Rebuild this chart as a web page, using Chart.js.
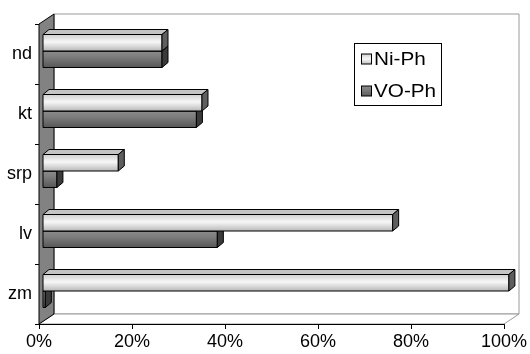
<!doctype html>
<html lang="en">
<head>
  <meta charset="utf-8">
  <title>Ni-Ph / VO-Ph</title>
  <script src="https://cdn.jsdelivr.net/npm/chart.js/dist/chart.umd.min.js"></script>
  <style>
    * { margin: 0; padding: 0; }
    body { background: #fff; width: 530px; height: 354px; overflow: hidden; }
  </style>
</head>
<body>
<canvas id="myChart" width="530" height="354"></canvas>

<script>
// data
const categories = ['nd', 'kt', 'srp', 'lv', 'zm'];
const niPh = [25.7, 34.3, 16.3, 75.3, 100.3];
const voPh = [25.7, 33.1, 3.1, 37.6, 0.6];
const xTicks = [0, 20, 40, 60, 80, 100];

// colours for the 3d faces (front gradient stops, top, side)
const faces = [
  { front: [[0, '#cfcfcf'], [0.45, '#f7f7f7'], [1, '#b8b8b8']], top: '#c4c4c4', side: '#5e5e5e' },
  { front: [[0, '#8c8c8c'], [0.4, '#7a7a7a'], [1, '#575757']], top: '#6e6e6e', side: '#3a3a3a' }
];

const FONT = 'Arial, "Liberation Sans", sans-serif';

function poly(ctx, pts, fill, stroke) {
  ctx.beginPath();
  ctx.moveTo(pts[0][0], pts[0][1]);
  for (let i = 1; i < pts.length; i++) ctx.lineTo(pts[i][0], pts[i][1]);
  ctx.closePath();
  if (fill) { ctx.fillStyle = fill; ctx.fill(); }
  if (stroke) { ctx.strokeStyle = stroke; ctx.lineWidth = 1; ctx.stroke(); }
}

// walls + 3d bars
const bar3d = {
  id: 'bar3d',
  beforeDatasetsDraw(chart) {
    const ctx = chart.ctx, a = chart.chartArea;
    const dx = 15, dy = -10;
    ctx.save();
    // back wall
    poly(ctx, [[a.left + dx, a.top + dy], [a.right + dx, a.top + dy], [a.right + dx, a.bottom + dy], [a.left + dx, a.bottom + dy]], '#fff', '#9a9a9a');
    // floor
    poly(ctx, [[a.left, a.bottom], [a.right, a.bottom], [a.right + dx, a.bottom + dy], [a.left + dx, a.bottom + dy]], '#fff', '#9a9a9a');
    // left wall
    poly(ctx, [[a.left, a.top], [a.left + dx, a.top + dy], [a.left + dx, a.bottom + dy], [a.left, a.bottom]], '#828282', '#000');
    // front floor edge
    ctx.beginPath();
    ctx.moveTo(a.left, a.bottom + 0.5);
    ctx.lineTo(a.right, a.bottom + 0.5);
    ctx.strokeStyle = '#000';
    ctx.stroke();
    ctx.restore();
  },
  afterDatasetsDraw(chart) {
    const ctx = chart.ctx;
    const bx = 3.5, by = -3, ddx = 6, ddy = -5;
    ctx.save();
    for (let d = chart.data.datasets.length - 1; d >= 0; d--) {
      const meta = chart.getDatasetMeta(d);
      const f = faces[d];
      meta.data.forEach(el => {
        const p = el.getProps(['x', 'y', 'base', 'height'], true);
        const x0 = p.base + bx, x1 = p.x + bx;
        const y0 = p.y - p.height / 2 + by, y1 = p.y + p.height / 2 + by;
        // front
        const g = ctx.createLinearGradient(0, y0, 0, y1);
        f.front.forEach(s => g.addColorStop(s[0], s[1]));
        poly(ctx, [[x0, y0], [x1, y0], [x1, y1], [x0, y1]], g, '#000');
        // top
        poly(ctx, [[x0, y0], [x1, y0], [x1 + ddx, y0 + ddy], [x0 + ddx, y0 + ddy]], f.top, '#000');
        // side
        poly(ctx, [[x1, y0], [x1 + ddx, y0 + ddy], [x1 + ddx, y1 + ddy], [x1, y1]], f.side, '#000');
      });
    }
    ctx.restore();
  },
  afterDraw(chart) {
    // legend box
    const ctx = chart.ctx;
    ctx.save();
    ctx.strokeStyle = '#000';
    ctx.lineWidth = 1;
    ctx.fillStyle = '#fff';
    ctx.fillRect(354.5, 43.5, 87, 62);
    ctx.strokeRect(354.5, 43.5, 87, 62);
    const rows = [59.5, 91.5];
    chart.data.datasets.forEach((ds, i) => {
      const yy = rows[i];
      const g = ctx.createLinearGradient(0, yy - 5.5, 0, yy + 5.5);
      faces[i].front.forEach(s => g.addColorStop(s[0], s[1]));
      ctx.fillStyle = g;
      ctx.fillRect(361.5, yy - 5.5, 10, 10);
      ctx.strokeRect(361.5, yy - 5.5, 10, 10);
      ctx.save();
      ctx.translate(374, yy);
      ctx.scale(1.15, 1);
      ctx.fillStyle = '#000';
      ctx.font = '18px ' + FONT;
      ctx.textBaseline = 'middle';
      ctx.fillText(ds.label, 0, 1);
      ctx.restore();
    });
    ctx.restore();
  }
};

const data = {
  labels: categories,
  datasets: [{
    label: 'Ni-Ph',
    data: niPh,
    backgroundColor: 'rgba(0,0,0,0)',
    borderWidth: 0
  }, {
    label: 'VO-Ph',
    data: voPh,
    backgroundColor: 'rgba(0,0,0,0)',
    borderWidth: 0
  }]
};

const config = {
  type: 'bar',
  data,
  options: {
    indexAxis: 'y',
    responsive: false,
    animation: false,
    events: [],
    categoryPercentage: 0.55,
    barPercentage: 1.0,
    layout: { padding: { top: 24, right: 26, left: 0, bottom: 0 } },
    plugins: {
      legend: { display: false },
      tooltip: { enabled: false }
    },
    scales: {
      x: {
        min: xTicks[0],
        max: xTicks[xTicks.length - 1],
        afterBuildTicks: axis => { axis.ticks = xTicks.map(v => ({ value: v })); },
        ticks: {
          callback: v => v + '%',
          color: '#000',
          font: { family: FONT, size: 18 },
          padding: 2,
          maxRotation: 0
        },
        grid: { drawOnChartArea: false, tickLength: 5, color: '#000' },
        border: { display: true, color: '#000' },
        afterFit: axis => { axis.height = 30; }
      },
      y: {
        ticks: {
          color: '#000',
          font: { family: FONT, size: 18 },
          padding: 3
        },
        grid: { drawOnChartArea: false, offset: true, tickLength: 4, color: '#000' },
        border: { display: true, color: '#000' },
        afterFit: axis => { axis.width = 39; }
      }
    }
  },
  plugins: [bar3d]
};

const myChart = new Chart(document.getElementById('myChart'), config);
</script>
</body>
</html>
